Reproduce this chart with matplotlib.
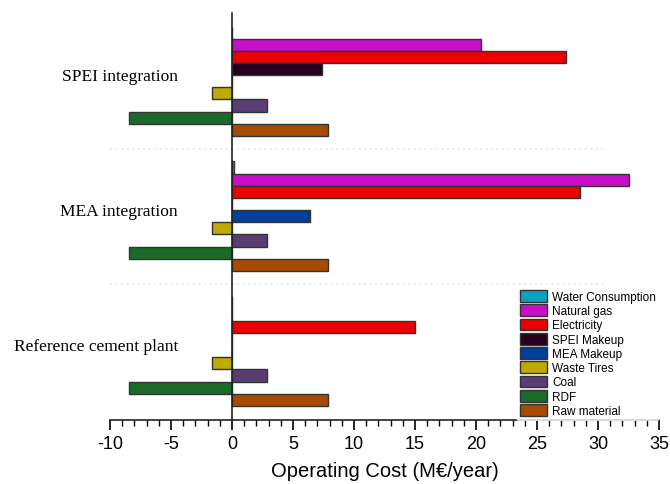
import matplotlib
matplotlib.use("Agg")
import matplotlib.pyplot as plt
import numpy as np
from matplotlib.patches import Patch
from matplotlib.ticker import MultipleLocator

plt.rcParams["axes.unicode_minus"] = False

scenarios = ["Reference cement plant", "MEA integration", "SPEI integration"]
series_names = ["Water Consumption", "Natural gas", "Electricity", "SPEI Makeup",
                "MEA Makeup", "Waste Tires", "Coal", "RDF", "Raw material"]
water = [0.0, 0.15, 0.0]
natural_gas = [0.0, 32.5, 20.4]
electricity = [15.0, 28.5, 27.4]
spei_makeup = [0.0, 0.0, 7.4]
mea_makeup = [0.0, 6.4, 0.0]
waste_tires = [-1.65, -1.65, -1.65]
coal = [2.9, 2.9, 2.9]
rdf = [-8.45, -8.45, -8.45]
raw_material = [7.85, 7.85, 7.85]
series_values = [water, natural_gas, electricity, spei_makeup, mea_makeup,
                 waste_tires, coal, rdf, raw_material]
colors = ["#0aa3bf", "#c60fc6", "#ee0000", "#2a0020", "#003f9a",
          "#bfaa00", "#5a3d73", "#1a6b2a", "#a84a00"]

fig = plt.figure(figsize=(6.7, 4.85), dpi=100)
ax = fig.add_axes([0.1642, 0.132, 0.8194, 0.8391])

w = 0.09
g = np.arange(len(scenarios))
for i, (name, vals, c) in enumerate(zip(series_names, series_values, colors)):
    ax.barh(g + (4 - i) * w, vals, height=w, color=c, edgecolor="#333333",
            linewidth=1.0, zorder=3)

ax.set_xlim(-10, 35)
ax.set_ylim(-0.51, 2.505)
for yy in [0.5, 1.5]:
    ax.axhline(yy, xmin=0, xmax=0.9, color="#ececec", linestyle=":", linewidth=1.5, zorder=1)

ax.spines["left"].set_position(("data", 0))
ax.spines["right"].set_visible(False)
ax.spines["top"].set_visible(False)
ax.spines["left"].set_color("#222222")
ax.spines["bottom"].set_color("#222222")
ax.spines["left"].set_linewidth(1.2)
ax.spines["bottom"].set_linewidth(1.2)
ax.spines["left"].set_zorder(4)
ax.set_yticks([])
ax.xaxis.set_major_locator(MultipleLocator(5))
ax.xaxis.set_minor_locator(MultipleLocator(1))
ax.tick_params(axis="x", which="major", direction="out", length=7, width=1.2,
               labelsize=13, pad=4)
ax.tick_params(axis="x", which="minor", direction="out", length=4, width=1.0)
for lab in ax.get_xticklabels():
    lab.set_family("Liberation Sans")
ax.set_xlabel("Operating Cost (M€/year)", fontsize=14.5, family="Liberation Sans", labelpad=6)

for gi, name in zip(g, scenarios):
    ax.text(0.124, gi + 0.035, name, transform=ax.get_yaxis_transform(),
            ha="right", va="center", fontsize=12.5, family="Liberation Serif")

handles = [Patch(facecolor=c, edgecolor="#333333", linewidth=1.0, label=n)
           for n, c in zip(series_names, colors)]
leg = ax.legend(handles=handles, loc="lower right", bbox_to_anchor=(1.012, -0.016),
                frameon=True, prop={"family": "Liberation Sans", "size": 8.5},
                handlelength=2.3, handleheight=1.15, labelspacing=0.12,
                handletextpad=0.45, borderpad=0.3)
leg.get_frame().set_facecolor("white")
leg.get_frame().set_edgecolor("none")

fig.savefig("out.png", dpi=100)
